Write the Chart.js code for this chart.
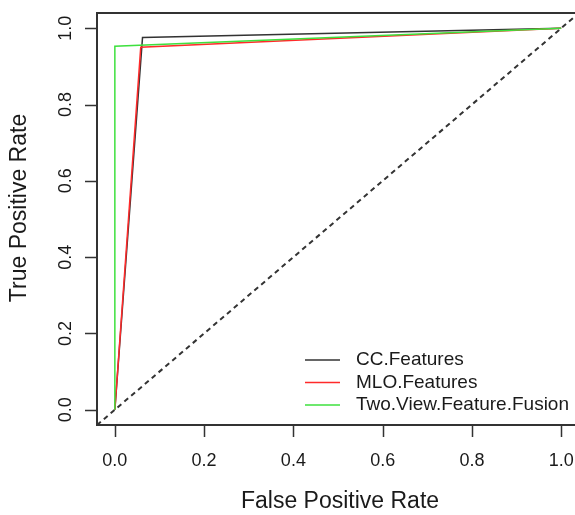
<!DOCTYPE html>
<html>
<head>
<meta charset="utf-8">
<script src="https://cdn.jsdelivr.net/npm/chart.js@4"></script>
<style>
  html, body { margin: 0; padding: 0; background: #fff; overflow: hidden; }
</style>
</head>
<body>
<canvas id="rocChart" width="575" height="515"></canvas>
<script>
// ROC data (false positive rate / true positive rate)
const seriesNames = ['CC.Features', 'MLO.Features', 'Two.View.Feature.Fusion'];
const fprCC = [0, 0.062, 1];
const tprCC = [0, 0.976, 1];
const fprMLO = [0, 0.058, 1];
const tprMLO = [0, 0.950, 1];
const fprFusion = [0, 0, 1];
const tprFusion = [0, 0.953, 1];
const chanceLine = [-0.04, 1.04];
const xTicks = [0, 0.2, 0.4, 0.6, 0.8, 1.0];
const yTicks = [0, 0.2, 0.4, 0.6, 0.8, 1.0];

const colors = ['#333333', '#ff2a2a', '#3ee03e'];

function toPoints(xs, ys) {
    return xs.map((x, i) => ({ x: x, y: ys[i] }));
}

// draws the R-style box, ticks, labels and legend
const rAxes = {
    id: 'rAxes',
    afterDraw(chart) {
        const { ctx, chartArea: { top, bottom, left, right } } = chart;
        const xs = chart.scales.x;
        const ys = chart.scales.y;
        ctx.save();

        // box (right side runs off the canvas)
        ctx.strokeStyle = '#333';
        ctx.lineWidth = 2;
        ctx.beginPath();
        ctx.moveTo(right + 10, top);
        ctx.lineTo(left, top);
        ctx.lineTo(left, bottom);
        ctx.lineTo(right + 10, bottom);
        ctx.stroke();

        // ticks
        ctx.lineWidth = 1.5;
        ctx.beginPath();
        xTicks.forEach(v => {
            const px = Math.round(xs.getPixelForValue(v)) + 0.5;
            ctx.moveTo(px, bottom);
            ctx.lineTo(px, bottom + 12);
        });
        yTicks.forEach(v => {
            const py = Math.round(ys.getPixelForValue(v)) + 0.5;
            ctx.moveTo(left, py);
            ctx.lineTo(left - 12, py);
        });
        ctx.stroke();

        // tick labels
        ctx.fillStyle = '#1a1a1a';
        ctx.font = '18px "Liberation Sans", Arial, sans-serif';
        ctx.textAlign = 'center';
        ctx.textBaseline = 'middle';
        xTicks.forEach(v => {
            ctx.fillText(v.toFixed(1), xs.getPixelForValue(v), bottom + 36);
        });
        yTicks.forEach(v => {
            ctx.save();
            ctx.translate(left - 31, ys.getPixelForValue(v));
            ctx.rotate(-Math.PI / 2);
            ctx.fillText(v.toFixed(1), 0, 0);
            ctx.restore();
        });

        // axis titles
        ctx.font = '23px "Liberation Sans", Arial, sans-serif';
        ctx.fillText('False Positive Rate', 340, bottom + 77);
        ctx.save();
        ctx.translate(20, 208);
        ctx.rotate(-Math.PI / 2);
        ctx.fillText('True Positive Rate', 0, 0);
        ctx.restore();

        // legend
        ctx.font = '19px "Liberation Sans", Arial, sans-serif';
        ctx.textAlign = 'left';
        seriesNames.forEach((name, i) => {
            const y = 360 + i * 22.5;
            ctx.strokeStyle = colors[i];
            ctx.lineWidth = 1.5;
            ctx.beginPath();
            ctx.moveTo(305, y);
            ctx.lineTo(340, y);
            ctx.stroke();
            ctx.fillStyle = '#1a1a1a';
            ctx.fillText(name, 356, y);
        });
        ctx.restore();
    }
};

const rocChart = new Chart(document.getElementById('rocChart'), {
    type: 'line',
    data: {
        datasets: [
            {
                label: seriesNames[0],
                data: toPoints(fprCC, tprCC),
                borderColor: colors[0],
                borderWidth: 1.5,
                order: 2
            },
            {
                label: seriesNames[1],
                data: toPoints(fprMLO, tprMLO),
                borderColor: colors[1],
                borderWidth: 1.5,
                order: 1
            },
            {
                label: seriesNames[2],
                data: toPoints(fprFusion, tprFusion),
                borderColor: colors[2],
                borderWidth: 1.5,
                order: 0
            },
            {
                label: 'chance',
                data: toPoints(chanceLine, chanceLine),
                borderColor: '#333',
                borderWidth: 2,
                borderDash: [5, 4],
                order: 3
            }
        ]
    },
    options: {
        responsive: false,
        animation: false,
        elements: {
            point: { radius: 0 },
            line: { tension: 0 }
        },
        layout: {
            autoPadding: false,
            padding: { left: 97, top: 13, right: 0, bottom: 90 }
        },
        scales: {
            x: { type: 'linear', display: false, min: -0.04, max: 1.031 },
            y: { type: 'linear', display: false, min: -0.04, max: 1.04 }
        },
        plugins: {
            legend: { display: false },
            tooltip: { enabled: false }
        }
    },
    plugins: [rAxes]
});
</script>
</body>
</html>
